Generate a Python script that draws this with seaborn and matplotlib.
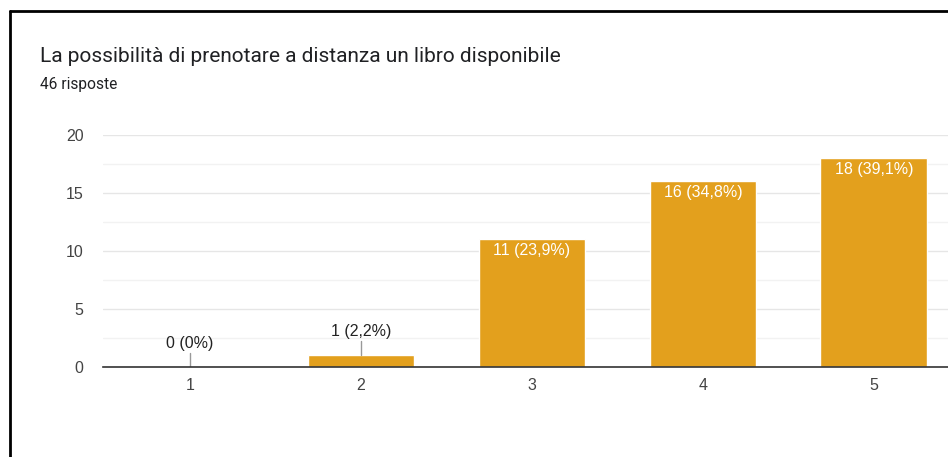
import matplotlib
matplotlib.use("Agg")
import matplotlib.pyplot as plt
from matplotlib.lines import Line2D
import seaborn as sns
import pandas as pd

categories = ["1", "2", "3", "4", "5"]
counts = [0, 1, 11, 16, 18]
labels = ["0 (0%)", "1 (2,2%)", "11 (23,9%)", "16 (34,8%)", "18 (39,1%)"]
title = "La possibilità di prenotare a distanza un libro disponibile"
subtitle = "46 risposte"

sns.set_theme(style="white")
plt.rcParams["font.family"] = ["Liberation Sans", "DejaVu Sans"]

bar_color = "#E3A01D"
df = pd.DataFrame({"cat": categories, "n": counts})

fig = plt.figure(figsize=(9.48, 4.57), dpi=100)
W, H = 948, 457
left, right, top, bottom = 103, 961, 135, 367
ax = fig.add_axes([left / W, 1 - bottom / H, (right - left) / W, (bottom - top) / H])

sns.barplot(data=df, x="cat", y="n", color=bar_color, width=0.625,
            saturation=1, ax=ax, zorder=3)

ax.set_xlim(-0.51, 4.51)
ax.set_ylim(0, 20)
ax.set_yticks([0, 5, 10, 15, 20])
ax.set_yticks([2.5, 7.5, 12.5, 17.5], minor=True)
ax.grid(axis="y", which="major", color="#e6e6e6", lw=1, zorder=0)
ax.grid(axis="y", which="minor", color="#f2f2f2", lw=1, zorder=0)
for s in ["left", "right", "top"]:
    ax.spines[s].set_visible(False)
ax.spines["bottom"].set_color("#333333")
ax.spines["bottom"].set_linewidth(1.2)
ax.spines["bottom"].set_zorder(4)
ax.tick_params(axis="both", length=0, labelsize=11.5, labelcolor="#444444")
ax.tick_params(axis="y", pad=14)
ax.tick_params(axis="x", pad=8)
ax.set_xlabel("")
ax.set_ylabel("")

for i, (v, lab) in enumerate(zip(counts, labels)):
    if v >= 5:
        ax.text(i, v - 0.3, lab, ha="center", va="top", color="white",
                fontsize=11.5, zorder=5)
    else:
        ax.plot([i, i], [v, v + 1.25], color="#999999", lw=1, zorder=4)
        ax.text(i, v + 1.4, lab, ha="center", va="bottom", color="#222222",
                fontsize=11.5, zorder=5)

fig.text(40 / W, 1 - 57 / H, title, ha="left", va="center",
         fontsize=15, color="#202124", family=["Roboto", "DejaVu Sans"])
fig.text(40 / W, 1 - 85 / H, subtitle, ha="left", va="center",
         fontsize=11.2, color="#202124", family=["Roboto", "DejaVu Sans"])

# frame edges along the left and top
fig.add_artist(Line2D([9.5 / W, 9.5 / W], [0, 1 - 11 / H], color="black",
                      lw=2, transform=fig.transFigure))
fig.add_artist(Line2D([9.5 / W, 1], [1 - 11 / H, 1 - 11 / H], color="black",
                      lw=2, transform=fig.transFigure))

fig.savefig("out.png", dpi=100)
